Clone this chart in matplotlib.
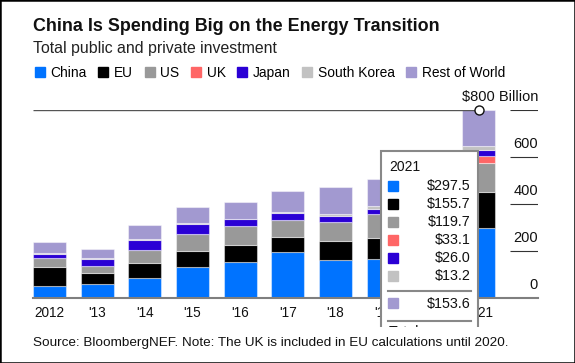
import matplotlib
matplotlib.use('Agg')
import matplotlib.pyplot as plt
from matplotlib.patches import Rectangle
from matplotlib.lines import Line2D
from matplotlib.transforms import Bbox
import numpy as np

plt.rcParams['font.family'] = ['Liberation Sans', 'DejaVu Sans']

# data (billions of USD)
years = ['2012', "'13", "'14", "'15", "'16", "'17", "'18", "'19", "'20", '2021']
china = [52, 59.5, 85, 132, 154, 197, 163, 167, 266, 297.5]
eu = [82, 47, 66, 70, 74, 63, 79, 88, 140, 155.7]
us = [39, 31, 54, 73, 78, 74, 81, 102, 105, 119.7]
uk = [0, 0, 0, 0, 0, 0, 0, 0, 0, 33.1]
japan = [15, 30, 43, 41, 30, 28, 27, 24, 24, 26.0]
south_korea = [3, 3, 3, 3, 3, 3, 8, 10, 10, 13.2]
rest = [48, 41, 61, 68, 69, 92, 115, 116, 75, 153.6]

names = ['China', 'EU', 'US', 'UK', 'Japan', 'South Korea', 'Rest of World']
series = [china, eu, us, uk, japan, south_korea, rest]
colors = ['#0073ff', '#000000', '#999999', '#ff6666', '#2a00d5', '#c2c2c2', '#a299d0']
yticks = [0, 200, 400, 600, 800]
hover = 9  # index of the highlighted year

W, H = 575, 363


def fx(x):
    return x / W


def fy(y):
    return 1 - y / H


fig = plt.figure(figsize=(W / 100, H / 100), dpi=100)
fig.patch.set_facecolor('white')

# titles
fig.text(fx(33), fy(30.7), 'China Is Spending Big on the Energy Transition',
         fontsize=12.9, fontweight='bold', va='baseline', color='#111111')
fig.text(fx(33), fy(52.7), 'Total public and private investment',
         fontsize=11.4, va='baseline', color='#222222')

# legend
handles = [Rectangle((0, 0), 1, 1, color=c) for c in colors]
fig.legend(handles, names, loc='center left', bbox_to_anchor=(fx(34.8), fy(72.7)),
           ncol=7, frameon=False, fontsize=9.9, handlelength=0.72, handleheight=0.72,
           handletextpad=0.41, columnspacing=0.85, borderpad=0, borderaxespad=0)

# plot area
x0, step = 49.3, 47.7
ax = fig.add_axes([fx(33), fy(298.3), 505 / W, 188.3 / H])
ax.set_xlim((33 - x0) / step, (538 - x0) / step)
ax.set_ylim(0, 800)
for s in ax.spines.values():
    s.set_visible(False)
ax.set_yticks([])

x = np.arange(len(years))
bottom = np.zeros(len(years))
for vals, c in zip(series, colors):
    ax.bar(x, vals, width=33 / step, bottom=bottom, color=c,
           edgecolor=(1, 1, 1, 0.45), linewidth=0.8, zorder=2)
    bottom += np.array(vals)

ax.axhline(0, color='#7f7f7f', lw=1.5, zorder=3, clip_on=False)
tick_x0 = (510 - x0) / step
ax.hlines(yticks[1:], tick_x0, ax.get_xlim()[1], color='#333333', lw=0.8)
for v in yticks:
    lab = '$%d Billion' % v if v == yticks[-1] else '%d' % v
    ax.annotate(lab, xy=(1, v), xycoords=('axes fraction', 'data'),
                xytext=(0, 9), textcoords='offset pixels', ha='right',
                va='baseline', fontsize=10.5, color='#111111')

ax.set_xticks(x, years)
ax.tick_params(axis='x', length=0, pad=5.5, labelsize=9.8, labelcolor='#111111')

# hover marker
total = bottom[hover]
ax.hlines(total, ax.get_xlim()[0], hover, color='#555555', lw=1, zorder=4)
ax.plot([hover], [total], 'o', ms=6.5, mfc='white', mec='#111111', mew=1,
        zorder=5, clip_on=False)

# tooltip, clipped at the bottom of the chart area
clip = Bbox([[0, H - 327], [W, H]])
box = Rectangle((fx(381), fy(345)), (477.7 - 381) / W, (345 - 150.7) / H,
                transform=fig.transFigure, facecolor='white', edgecolor='#888888',
                lw=1.5, zorder=10)
box.set_clip_box(clip)
fig.patches.append(box)

fig.text(fx(389), fy(170.7), years[hover], fontsize=10, va='baseline',
         color='#111111', zorder=11)
rows = [185.5 + 18 * i for i in range(6)] + [303]
for i, (vals, c) in enumerate(zip(series, colors)):
    yc = rows[i]
    fig.patches.append(Rectangle((fx(388.3), fy(yc + 5)), 10 / W, 10 / H,
                                 transform=fig.transFigure, color=c, zorder=11))
    fig.text(fx(470.7), fy(yc + 4.8), '$%.1f' % vals[hover], fontsize=10.3,
             ha='right', va='baseline', color='#111111', zorder=11)
for ys in [290.7, 320.7]:
    fig.lines.append(Line2D([fx(388.3), fx(470.7)], [fy(ys), fy(ys)],
                            transform=fig.transFigure, color='#888888', lw=1.5, zorder=11))
t = fig.text(fx(389), fy(336.5), 'Total', fontsize=10.3, va='baseline',
             color='#111111', zorder=11)
t.set_clip_box(clip)
t.set_clip_on(True)

# footer
fig.text(fx(33), fy(343.3), 'Source: BloombergNEF. Note: The UK is included in EU calculations until 2020.',
         fontsize=9.7, va='center', color='#111111')

# outer frame
fig.patches.append(Rectangle((0, 0), 1, 1, transform=fig.transFigure, fill=False,
                             edgecolor='black', lw=1.8, zorder=20))

fig.savefig('out.png', dpi=100)
